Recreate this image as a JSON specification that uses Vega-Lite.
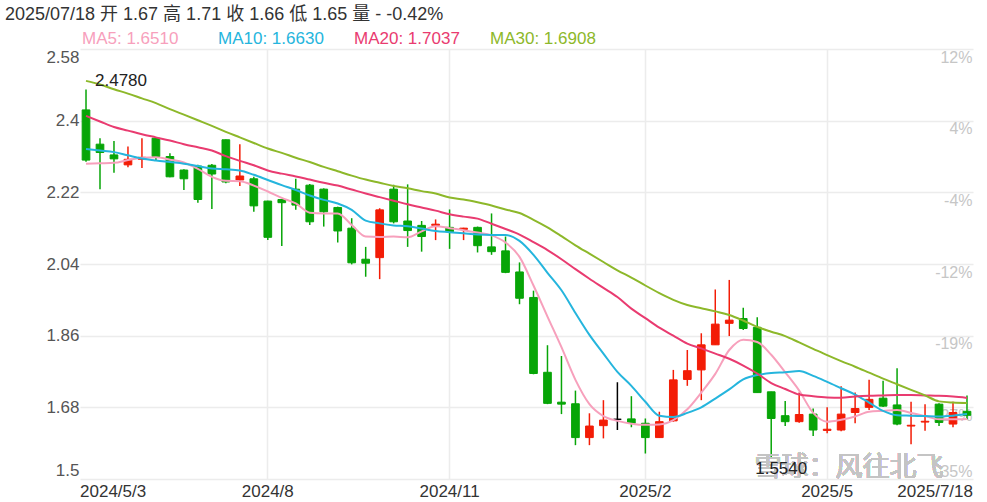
{
  "$schema": "https://vega.github.io/schema/vega-lite/v6.json",
  "width": 893,
  "height": 430,
  "autosize": {"type": "none"},
  "padding": {"left": 80, "top": 49, "right": 14, "bottom": 23},
  "background": "#ffffff",
  "config": {"view": {"stroke": null}, "font": "Liberation Sans, Noto Sans CJK SC"},
  "title": {
    "text": "2025/07/18 开 1.67 高 1.71 收 1.66 低 1.65 量 - -0.42%",
    "anchor": "start",
    "frame": "group",
    "dx": -75,
    "offset": 6,
    "fontSize": 18,
    "font": "Liberation Sans, Noto Sans CJK SC",
    "fontWeight": "normal",
    "color": "#333333"
  },
  "data": {
    "values": [
      {"d": "2024-05-03", "open": 2.427, "high": 2.478, "low": 2.297, "close": 2.301, "ma5": 2.292, "ma10": 2.329, "ma20": 2.412, "ma30": 2.500},
      {"d": "2024-05-10", "open": 2.341, "high": 2.356, "low": 2.228, "close": 2.320, "ma5": 2.293, "ma10": 2.325, "ma20": 2.398, "ma30": 2.491},
      {"d": "2024-05-17", "open": 2.314, "high": 2.349, "low": 2.269, "close": 2.304, "ma5": 2.294, "ma10": 2.321, "ma20": 2.384, "ma30": 2.479},
      {"d": "2024-05-24", "open": 2.289, "high": 2.335, "low": 2.283, "close": 2.303, "ma5": 2.301, "ma10": 2.313, "ma20": 2.375, "ma30": 2.468},
      {"d": "2024-05-31", "open": 2.303, "high": 2.356, "low": 2.281, "close": 2.308, "ma5": 2.307, "ma10": 2.305, "ma20": 2.366, "ma30": 2.456},
      {"d": "2024-06-07", "open": 2.356, "high": 2.358, "low": 2.301, "close": 2.310, "ma5": 2.308, "ma10": 2.300, "ma20": 2.358, "ma30": 2.444},
      {"d": "2024-06-14", "open": 2.310, "high": 2.318, "low": 2.258, "close": 2.259, "ma5": 2.302, "ma10": 2.296, "ma20": 2.350, "ma30": 2.429},
      {"d": "2024-06-21", "open": 2.276, "high": 2.278, "low": 2.226, "close": 2.254, "ma5": 2.295, "ma10": 2.292, "ma20": 2.341, "ma30": 2.415},
      {"d": "2024-06-28", "open": 2.286, "high": 2.289, "low": 2.194, "close": 2.202, "ma5": 2.279, "ma10": 2.286, "ma20": 2.333, "ma30": 2.401},
      {"d": "2024-07-05", "open": 2.288, "high": 2.291, "low": 2.178, "close": 2.266, "ma5": 2.259, "ma10": 2.280, "ma20": 2.325, "ma30": 2.387},
      {"d": "2024-07-12", "open": 2.352, "high": 2.353, "low": 2.243, "close": 2.246, "ma5": 2.249, "ma10": 2.278, "ma20": 2.311, "ma30": 2.372},
      {"d": "2024-07-19", "open": 2.251, "high": 2.341, "low": 2.236, "close": 2.261, "ma5": 2.248, "ma10": 2.275, "ma20": 2.299, "ma30": 2.358},
      {"d": "2024-07-26", "open": 2.254, "high": 2.259, "low": 2.171, "close": 2.186, "ma5": 2.237, "ma10": 2.264, "ma20": 2.288, "ma30": 2.344},
      {"d": "2024-08-02", "open": 2.198, "high": 2.199, "low": 2.100, "close": 2.107, "ma5": 2.222, "ma10": 2.251, "ma20": 2.275, "ma30": 2.330},
      {"d": "2024-08-09", "open": 2.202, "high": 2.203, "low": 2.085, "close": 2.194, "ma5": 2.206, "ma10": 2.238, "ma20": 2.267, "ma30": 2.319},
      {"d": "2024-08-16", "open": 2.228, "high": 2.254, "low": 2.176, "close": 2.188, "ma5": 2.192, "ma10": 2.226, "ma20": 2.260, "ma30": 2.307},
      {"d": "2024-08-23", "open": 2.238, "high": 2.241, "low": 2.138, "close": 2.146, "ma5": 2.169, "ma10": 2.212, "ma20": 2.252, "ma30": 2.296},
      {"d": "2024-08-30", "open": 2.228, "high": 2.230, "low": 2.134, "close": 2.171, "ma5": 2.167, "ma10": 2.201, "ma20": 2.244, "ma30": 2.284},
      {"d": "2024-09-06", "open": 2.182, "high": 2.184, "low": 2.094, "close": 2.123, "ma5": 2.167, "ma10": 2.192, "ma20": 2.237, "ma30": 2.273},
      {"d": "2024-09-13", "open": 2.130, "high": 2.155, "low": 2.039, "close": 2.043, "ma5": 2.138, "ma10": 2.176, "ma20": 2.227, "ma30": 2.262},
      {"d": "2024-09-20", "open": 2.052, "high": 2.083, "low": 2.008, "close": 2.042, "ma5": 2.109, "ma10": 2.149, "ma20": 2.217, "ma30": 2.252},
      {"d": "2024-09-27", "open": 2.056, "high": 2.180, "low": 2.002, "close": 2.176, "ma5": 2.108, "ma10": 2.142, "ma20": 2.208, "ma30": 2.244},
      {"d": "2024-09-30", "open": 2.228, "high": 2.239, "low": 2.142, "close": 2.146, "ma5": 2.109, "ma10": 2.137, "ma20": 2.199, "ma30": 2.236},
      {"d": "2024-10-11", "open": 2.148, "high": 2.240, "low": 2.083, "close": 2.124, "ma5": 2.107, "ma10": 2.135, "ma20": 2.190, "ma30": 2.230},
      {"d": "2024-10-18", "open": 2.137, "high": 2.148, "low": 2.071, "close": 2.109, "ma5": 2.122, "ma10": 2.129, "ma20": 2.182, "ma30": 2.223},
      {"d": "2024-10-25", "open": 2.137, "high": 2.152, "low": 2.100, "close": 2.140, "ma5": 2.135, "ma10": 2.123, "ma20": 2.174, "ma30": 2.217},
      {"d": "2024-11-01", "open": 2.132, "high": 2.177, "low": 2.078, "close": 2.121, "ma5": 2.130, "ma10": 2.120, "ma20": 2.165, "ma30": 2.207},
      {"d": "2024-11-08", "open": 2.127, "high": 2.131, "low": 2.100, "close": 2.130, "ma5": 2.125, "ma10": 2.117, "ma20": 2.159, "ma30": 2.202},
      {"d": "2024-11-15", "open": 2.132, "high": 2.134, "low": 2.069, "close": 2.086, "ma5": 2.119, "ma10": 2.114, "ma20": 2.154, "ma30": 2.195},
      {"d": "2024-11-22", "open": 2.083, "high": 2.167, "low": 2.063, "close": 2.071, "ma5": 2.112, "ma10": 2.113, "ma20": 2.141, "ma30": 2.187},
      {"d": "2024-11-29", "open": 2.073, "high": 2.109, "low": 2.017, "close": 2.019, "ma5": 2.094, "ma10": 2.113, "ma20": 2.128, "ma30": 2.177},
      {"d": "2024-12-06", "open": 2.020, "high": 2.044, "low": 1.939, "close": 1.954, "ma5": 2.058, "ma10": 2.098, "ma20": 2.114, "ma30": 2.168},
      {"d": "2024-12-13", "open": 1.956, "high": 1.973, "low": 1.763, "close": 1.765, "ma5": 1.986, "ma10": 2.063, "ma20": 2.095, "ma30": 2.151},
      {"d": "2024-12-20", "open": 1.768, "high": 1.836, "low": 1.688, "close": 1.690, "ma5": 1.908, "ma10": 2.018, "ma20": 2.075, "ma30": 2.132},
      {"d": "2024-12-27", "open": 1.693, "high": 1.809, "low": 1.663, "close": 1.688, "ma5": 1.831, "ma10": 1.974, "ma20": 2.052, "ma30": 2.110},
      {"d": "2025-01-03", "open": 1.689, "high": 1.722, "low": 1.585, "close": 1.604, "ma5": 1.749, "ma10": 1.917, "ma20": 2.027, "ma30": 2.087},
      {"d": "2025-01-10", "open": 1.604, "high": 1.665, "low": 1.585, "close": 1.633, "ma5": 1.688, "ma10": 1.862, "ma20": 2.003, "ma30": 2.066},
      {"d": "2025-01-17", "open": 1.634, "high": 1.698, "low": 1.602, "close": 1.648, "ma5": 1.658, "ma10": 1.815, "ma20": 1.980, "ma30": 2.045},
      {"d": "2025-01-24", "open": 1.650, "high": 1.743, "low": 1.623, "close": 1.650, "ma5": 1.646, "ma10": 1.769, "ma20": 1.957, "ma30": 2.024},
      {"d": "2025-01-27", "open": 1.651, "high": 1.708, "low": 1.630, "close": 1.640, "ma5": 1.639, "ma10": 1.734, "ma20": 1.928, "ma30": 2.006},
      {"d": "2025-02-07", "open": 1.640, "high": 1.652, "low": 1.564, "close": 1.604, "ma5": 1.636, "ma10": 1.694, "ma20": 1.904, "ma30": 1.986},
      {"d": "2025-02-14", "open": 1.604, "high": 1.669, "low": 1.604, "close": 1.644, "ma5": 1.637, "ma10": 1.659, "ma20": 1.880, "ma30": 1.967},
      {"d": "2025-02-21", "open": 1.646, "high": 1.774, "low": 1.644, "close": 1.749, "ma5": 1.648, "ma10": 1.656, "ma20": 1.860, "ma30": 1.950},
      {"d": "2025-02-28", "open": 1.750, "high": 1.824, "low": 1.734, "close": 1.772, "ma5": 1.675, "ma10": 1.666, "ma20": 1.840, "ma30": 1.937},
      {"d": "2025-03-07", "open": 1.774, "high": 1.866, "low": 1.698, "close": 1.837, "ma5": 1.717, "ma10": 1.680, "ma20": 1.828, "ma30": 1.929},
      {"d": "2025-03-14", "open": 1.837, "high": 1.976, "low": 1.837, "close": 1.889, "ma5": 1.764, "ma10": 1.702, "ma20": 1.815, "ma30": 1.921},
      {"d": "2025-03-21", "open": 1.891, "high": 2.000, "low": 1.859, "close": 1.899, "ma5": 1.824, "ma10": 1.725, "ma20": 1.802, "ma30": 1.912},
      {"d": "2025-03-28", "open": 1.903, "high": 1.930, "low": 1.874, "close": 1.878, "ma5": 1.850, "ma10": 1.750, "ma20": 1.785, "ma30": 1.898},
      {"d": "2025-04-03", "open": 1.881, "high": 1.906, "low": 1.717, "close": 1.717, "ma5": 1.844, "ma10": 1.761, "ma20": 1.765, "ma30": 1.882},
      {"d": "2025-04-11", "open": 1.719, "high": 1.719, "low": 1.554, "close": 1.652, "ma5": 1.812, "ma10": 1.766, "ma20": 1.741, "ma30": 1.870},
      {"d": "2025-04-18", "open": 1.659, "high": 1.696, "low": 1.633, "close": 1.644, "ma5": 1.768, "ma10": 1.768, "ma20": 1.726, "ma30": 1.859},
      {"d": "2025-04-25", "open": 1.644, "high": 1.717, "low": 1.641, "close": 1.662, "ma5": 1.722, "ma10": 1.771, "ma20": 1.712, "ma30": 1.843},
      {"d": "2025-04-30", "open": 1.663, "high": 1.677, "low": 1.608, "close": 1.623, "ma5": 1.666, "ma10": 1.759, "ma20": 1.708, "ma30": 1.827},
      {"d": "2025-05-09", "open": 1.622, "high": 1.680, "low": 1.615, "close": 1.625, "ma5": 1.644, "ma10": 1.744, "ma20": 1.705, "ma30": 1.811},
      {"d": "2025-05-16", "open": 1.623, "high": 1.733, "low": 1.620, "close": 1.663, "ma5": 1.649, "ma10": 1.728, "ma20": 1.704, "ma30": 1.796},
      {"d": "2025-05-23", "open": 1.667, "high": 1.717, "low": 1.640, "close": 1.677, "ma5": 1.657, "ma10": 1.712, "ma20": 1.707, "ma30": 1.782},
      {"d": "2025-05-30", "open": 1.680, "high": 1.749, "low": 1.673, "close": 1.700, "ma5": 1.669, "ma10": 1.692, "ma20": 1.709, "ma30": 1.767},
      {"d": "2025-06-06", "open": 1.703, "high": 1.747, "low": 1.681, "close": 1.683, "ma5": 1.671, "ma10": 1.671, "ma20": 1.710, "ma30": 1.752},
      {"d": "2025-06-13", "open": 1.686, "high": 1.778, "low": 1.635, "close": 1.638, "ma5": 1.673, "ma10": 1.660, "ma20": 1.711, "ma30": 1.738},
      {"d": "2025-06-20", "open": 1.633, "high": 1.694, "low": 1.587, "close": 1.635, "ma5": 1.666, "ma10": 1.659, "ma20": 1.711, "ma30": 1.724},
      {"d": "2025-06-27", "open": 1.643, "high": 1.688, "low": 1.621, "close": 1.645, "ma5": 1.658, "ma10": 1.658, "ma20": 1.710, "ma30": 1.710},
      {"d": "2025-07-04", "open": 1.688, "high": 1.690, "low": 1.633, "close": 1.642, "ma5": 1.650, "ma10": 1.657, "ma20": 1.709, "ma30": 1.695},
      {"d": "2025-07-11", "open": 1.638, "high": 1.694, "low": 1.630, "close": 1.667, "ma5": 1.650, "ma10": 1.659, "ma20": 1.707, "ma30": 1.692},
      {"d": "2025-07-18", "open": 1.67, "high": 1.71, "low": 1.65, "close": 1.66, "ma5": 1.651, "ma10": 1.663, "ma20": 1.7037, "ma30": 1.6908}
    ]
  },
  "layer": [
    {
      "layer": [
        {
          "mark": {"type": "rule", "strokeWidth": 1.5},
          "encoding": {
            "x": {
              "field": "d",
              "type": "ordinal",
              "sort": null,
              "scale": {"type": "band", "paddingInner": 0.45, "paddingOuter": 0.155},
              "axis": {
                "values": ["2024-05-03", "2024-08-02", "2024-11-01", "2025-02-07", "2025-05-09", "2025-07-18"],
                "labelExpr": "datum.value === '2024-05-03' ? '2024/5/3' : datum.value === '2024-08-02' ? '2024/8' : datum.value === '2024-11-01' ? '2024/11' : datum.value === '2025-02-07' ? '2025/2' : datum.value === '2025-05-09' ? '2025/5' : '2025/7/18'",
                "labelAngle": 0,
                "labelFlush": 10,
                "labelFlushOffset": 6,
                "labelFontSize": 17,
                "labelFont": "Liberation Sans",
                "labelColor": "#333333",
                "labelPadding": 4,
                "ticks": false,
                "tickSize": 0,
                "domain": false,
                "grid": true,
                "gridColor": "#ececec",
                "gridWidth": 1.5,
                "gridOpacity": {"condition": {"test": "datum.value === '2024-05-03' || datum.value === '2025-07-18'", "value": 0}, "value": 1},
                "bandPosition": 0.5,
                "title": null
              }
            },
            "y": {
              "field": "low",
              "type": "quantitative",
              "scale": {"domain": [1.5, 2.58], "nice": false, "zero": false},
              "axis": {
                "values": [1.5, 1.68, 1.86, 2.04, 2.22, 2.4, 2.58],
                "labelExpr": "toString(datum.value)",
                "labelFlush": true,
                "labelFontSize": 17,
                "labelFont": "Liberation Sans",
                "labelColor": "#555555",
                "labelPadding": 1,
                "ticks": false,
                "tickSize": 0,
                "domain": false,
                "grid": true,
                "gridColor": "#ececec",
                "gridWidth": 1.5,
                "title": null
              }
            },
            "y2": {"field": "high"},
            "color": {
              "condition": [
                {"test": "datum.close > datum.open", "value": "#f31c06"},
                {"test": "datum.close < datum.open", "value": "#07a507"}
              ],
              "value": "#000000"
            }
          }
        },
        {
          "mark": {"type": "bar", "strokeWidth": 1},
          "encoding": {
            "x": {"field": "d", "type": "ordinal", "sort": null, "title": null},
            "y": {"field": "open", "type": "quantitative", "title": null},
            "y2": {"field": "close"},
            "fill": {
              "condition": [
                {"test": "datum.close > datum.open", "value": "#f31c06"},
                {"test": "datum.close < datum.open", "value": "#07a507"}
              ],
              "value": "#000000"
            },
            "stroke": {
              "condition": [
                {"test": "datum.close > datum.open", "value": "#f31c06"},
                {"test": "datum.close < datum.open", "value": "#07a507"}
              ],
              "value": "#000000"
            }
          }
        },
        {
          "mark": {"type": "line", "strokeWidth": 2, "interpolate": "monotone"},
          "encoding": {
            "x": {"field": "d", "type": "ordinal", "sort": null, "title": null},
            "y": {"field": "ma5", "type": "quantitative", "title": null},
            "color": {
              "datum": "MA5: 1.6510",
              "scale": {
                "domain": ["MA5: 1.6510", "MA10: 1.6630", "MA20: 1.7037", "MA30: 1.6908"],
                "range": ["#f7a0bc", "#25b5dd", "#e93b70", "#8db82a"]
              },
              "legend": {
                "orient": "top",
                "direction": "horizontal",
                "columns": 4,
                "gridAlign": "all",
                "columnPadding": 28,
                "symbolType": "circle",
                "symbolSize": 0,
                "symbolStrokeWidth": 0,
                "symbolOpacity": 0,
                "labelOffset": -15,
                "labelFontSize": 17,
                "labelFont": "Liberation Sans",
                "labelLimit": 300,
                "offset": 2,
                "padding": 0,
                "title": null,
                "encode": {"labels": {"update": {"fill": {"scale": "color", "field": "value"}}}}
              }
            }
          }
        },
        {
          "mark": {"type": "line", "strokeWidth": 2, "interpolate": "monotone"},
          "encoding": {
            "x": {"field": "d", "type": "ordinal", "sort": null, "title": null},
            "y": {"field": "ma10", "type": "quantitative", "title": null},
            "color": {"datum": "MA10: 1.6630"}
          }
        },
        {
          "mark": {"type": "line", "strokeWidth": 2, "interpolate": "monotone"},
          "encoding": {
            "x": {"field": "d", "type": "ordinal", "sort": null, "title": null},
            "y": {"field": "ma20", "type": "quantitative", "title": null},
            "color": {"datum": "MA20: 1.7037"}
          }
        },
        {
          "mark": {"type": "line", "strokeWidth": 2, "interpolate": "monotone"},
          "encoding": {
            "x": {"field": "d", "type": "ordinal", "sort": null, "title": null},
            "y": {"field": "ma30", "type": "quantitative", "title": null},
            "color": {"datum": "MA30: 1.6908"}
          }
        },
        {
          "transform": [{"filter": "datum.d === '2024-05-03'"}],
          "mark": {"type": "text", "align": "left", "baseline": "middle", "dx": 9, "dy": -9, "fontSize": 17, "font": "Liberation Sans", "color": "#222222"},
          "encoding": {
            "x": {"field": "d", "type": "ordinal", "sort": null, "title": null},
            "y": {"field": "high", "type": "quantitative", "title": null},
            "text": {"field": "high", "type": "quantitative", "format": ".4f"}
          }
        },
        {
          "mark": {"type": "text", "align": "center", "baseline": "middle", "dx": -6, "fontSize": 27, "font": "Noto Sans CJK SC", "color": "#c4c4c4", "opacity": 0.7},
          "encoding": {
            "x": {"datum": "2025-05-23", "type": "ordinal"},
            "y": {"datum": 1.527, "type": "quantitative"},
            "text": {"value": "雪球：风往北飞"}
          }
        },
        {
          "transform": [{"filter": "datum.d === '2025-04-11'"}],
          "mark": {"type": "text", "align": "left", "baseline": "middle", "dx": -16, "dy": 11, "fontSize": 17, "font": "Liberation Sans", "color": "#222222"},
          "encoding": {
            "x": {"field": "d", "type": "ordinal", "sort": null, "title": null},
            "y": {"field": "low", "type": "quantitative", "title": null},
            "text": {"field": "low", "type": "quantitative", "format": ".4f"}
          }
        }
      ]
    },
    {
      "mark": {"type": "point", "opacity": 0},
      "encoding": {
        "x": {"field": "d", "type": "ordinal", "sort": null, "title": null},
        "y": {
          "field": "close",
          "type": "quantitative",
          "scale": {"domain": [1.5, 2.58], "nice": false, "zero": false},
          "axis": {
            "orient": "right",
            "values": [1.5, 1.68, 1.86, 2.04, 2.22, 2.4, 2.58],
            "labelExpr": "round((datum.value / 2.31 - 1) * 100) + '%'",
            "labelAlign": "right",
            "labelPadding": -1,
            "labelBaseline": {"condition": {"test": "datum.value < 1.51", "value": "bottom"}, "value": "top"},
            "labelFontSize": 16,
            "labelFont": "Liberation Sans",
            "labelColor": "#c6c6c6",
            "ticks": false,
            "tickSize": 0,
            "domain": false,
            "grid": false,
            "title": null
          }
        }
      }
    }
  ],
  "resolve": {"scale": {"y": "independent"}}
}
